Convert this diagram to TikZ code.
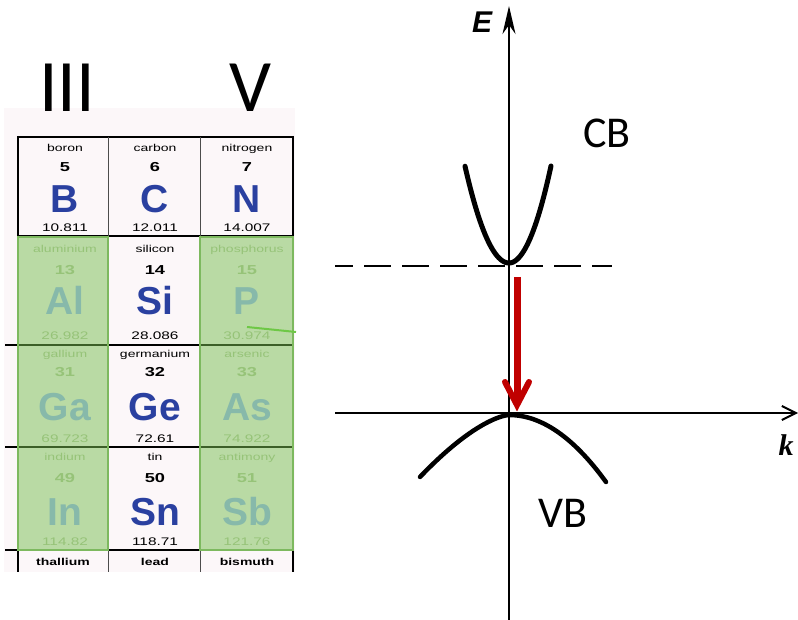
\documentclass[tikz,border=0pt]{standalone}
\usepackage{fontspec}
\setmainfont{Liberation Sans}
\newfontfamily\cellfont[FakeStretch=1.4]{Liberation Sans}
\newfontfamily\calfont{Carlito}
\newfontfamily\serfont{Liberation Serif}
\usetikzlibrary{arrows.meta}
\definecolor{symblue}{RGB}{42,64,160}
\definecolor{gtext}{RGB}{150,195,120}
\definecolor{gsym}{RGB}{135,185,170}
\definecolor{gfill}{RGB}{120,190,80}
\definecolor{gedge}{RGB}{125,185,95}
\definecolor{pinkbg}{RGB}{252,247,249}
\definecolor{arrred}{RGB}{192,0,0}
\definecolor{gline}{RGB}{110,200,70}
\begin{document}
\begin{tikzpicture}[x=1pt,y=-1pt,
  every node/.style={inner sep=0pt,outer sep=0pt},
  namek/.style={anchor=base,font=\cellfont\fontsize{10}{12}\selectfont,text=black},
  nameg/.style={namek,text=gtext},
  numk/.style={anchor=base,font=\cellfont\bfseries\fontsize{13}{15}\selectfont,text=black},
  numg/.style={numk,text=gtext},
  symk/.style={anchor=base,font=\bfseries\fontsize{39}{40}\selectfont,text=symblue},
  symg/.style={symk,text=gsym},
  massk/.style={anchor=base,font=\cellfont\fontsize{11}{12}\selectfont,text=black},
  massg/.style={massk,text=gtext},
  hline/.style={line width=1.8pt,black},
  vline/.style={line width=0.9pt,black!70},
  hdr/.style={anchor=base,font=\calfont\fontsize{74}{80}\selectfont},
  bandlabel/.style={anchor=base,font=\calfont\fontsize{44}{48}\selectfont},
  axis/.style={line width=2pt,black},
  band/.style={line width=5pt,black,line cap=round,line join=round}]
\useasboundingbox (0,0) rectangle (798,620);
% ---------- periodic table ----------
\fill[pinkbg] (4,108) rectangle (295,572);
\node[hdr] (g3) at (67,112) {III};
\node[hdr] (g5) at (250,112) {V};
\draw[hline] (18,137) -- (293,137);
\draw[hline] (18,236) -- (293,236);
\draw[hline] (5,345) -- (293,345);
\draw[hline] (5,447) -- (293,447);
\draw[hline] (5,550) -- (293,550);
\draw[line width=2.5pt] (18,136) -- (18,572);
\draw[vline] (108,137) -- (108,572);
\draw[vline] (200,137) -- (200,572);
\draw[line width=1.4pt] (293,136) -- (293,572);
\fill[gfill,opacity=0.5] (18,237) rectangle (108,550);
\fill[gfill,opacity=0.5] (200,237) rectangle (293,550);
\draw[gedge,line width=1.2pt] (18,237) rectangle (108,550);
\draw[gedge,line width=1.2pt] (200,237) rectangle (293,550);
\draw[gline,line width=2pt] (247,327) -- (296,332);
% row 1
\foreach \id/\x/\st/\nm/\nb/\sy/\ms in {a/65/k/boron/5/B/10.811,b/155/k/carbon/6/C/12.011,c/247/k/nitrogen/7/N/14.007}{
  \node[name\st] (na1\id) at (\x,152) {\nm};
  \node[num\st] (nb1\id) at (\x,172) {\nb};
  \node[sym\st] (sy1\id) at (\x,213) {\sy};
  \node[mass\st] (ms1\id) at (\x,232) {\ms};
}
% row 2
\foreach \id/\x/\st/\nm/\nb/\sy/\ms in {a/65/g/aluminium/13/Al/26.982,b/155/k/silicon/14/Si/28.086,c/247/g/phosphorus/15/P/30.974}{
  \node[name\st] (na2\id) at (\x,253) {\nm};
  \node[num\st] (nb2\id) at (\x,275) {\nb};
  \node[sym\st] (sy2\id) at (\x,315) {\sy};
  \node[mass\st] (ms2\id) at (\x,340) {\ms};
}
% row 3
\foreach \id/\x/\st/\nm/\nb/\sy/\ms in {a/65/g/gallium/31/Ga/69.723,b/155/k/germanium/32/Ge/72.61,c/247/g/arsenic/33/As/74.922}{
  \node[name\st] (na3\id) at (\x,358) {\nm};
  \node[num\st] (nb3\id) at (\x,377) {\nb};
  \node[sym\st] (sy3\id) at (\x,420) {\sy};
  \node[mass\st] (ms3\id) at (\x,442) {\ms};
}
% row 4
\foreach \id/\x/\st/\nm/\nb/\sy/\ms in {a/65/g/indium/49/In/114.82,b/155/k/tin/50/Sn/118.71,c/247/g/antimony/51/Sb/121.76}{
  \node[name\st] (na4\id) at (\x,460) {\nm};
  \node[num\st] (nb4\id) at (\x,482) {\nb};
  \node[sym\st] (sy4\id) at (\x,525) {\sy};
  \node[mass\st] (ms4\id) at (\x,545) {\ms};
}
% row 5
\foreach \id/\x/\nm in {a/63/thallium,b/155/lead,c/247/bismuth}{
  \node[namek,font=\cellfont\bfseries\fontsize{10}{12}\selectfont] (na5\id) at (\x,565) {\nm};
}
% ---------- band diagram ----------
\coordinate (vbot) at (509,620);
\coordinate (vtop) at (509,6);
\coordinate (hleft) at (335,413);
\coordinate (hright) at (798,413);
\coordinate (dleft) at (335,266);
\coordinate (dright) at (612,266);
\draw[axis,-{Stealth[length=28pt,width=13pt,inset=9pt]}] (vbot) -- (vtop);
\draw[axis,-{Straight Barb[length=14pt,width=14pt]}] (hleft) -- (hright);
\draw[line width=2pt,dash pattern=on 27pt off 11pt,dash phase=9pt] (dleft) -- (dright);
\draw[band] plot[domain=-44:42,samples=60] ({509+\x},{263-(\x<0 ? 0.05 : 0.055)*\x*\x});
\draw[band,line width=4.5pt] plot[domain=-89:97,samples=80] ({509+\x},{415+(\x<0 ? 63*sqrt(abs(\x)/90)^3 : 67*(abs(\x)/97)^2)});
% red transition arrow
\coordinate (rtop) at (517,277);
\coordinate (rbot) at (517,398);
\draw[arrred,line width=7pt] (rtop) -- (rbot);
\draw[arrred,line width=6pt,line cap=round,line join=miter] (505,382) -- (517,405) -- (529,382);
% labels
\node[anchor=base,font=\bfseries\itshape\fontsize{30}{32}\selectfont] (E) at (482,33) {E};
\node[anchor=base,font=\serfont\bfseries\itshape\fontsize{30}{32}\selectfont] (k) at (786,455) {k};
\node[bandlabel] (CB) at (607,148) {CB};
\node[bandlabel] (VB) at (563,527) {VB};
\end{tikzpicture}
\end{document}
